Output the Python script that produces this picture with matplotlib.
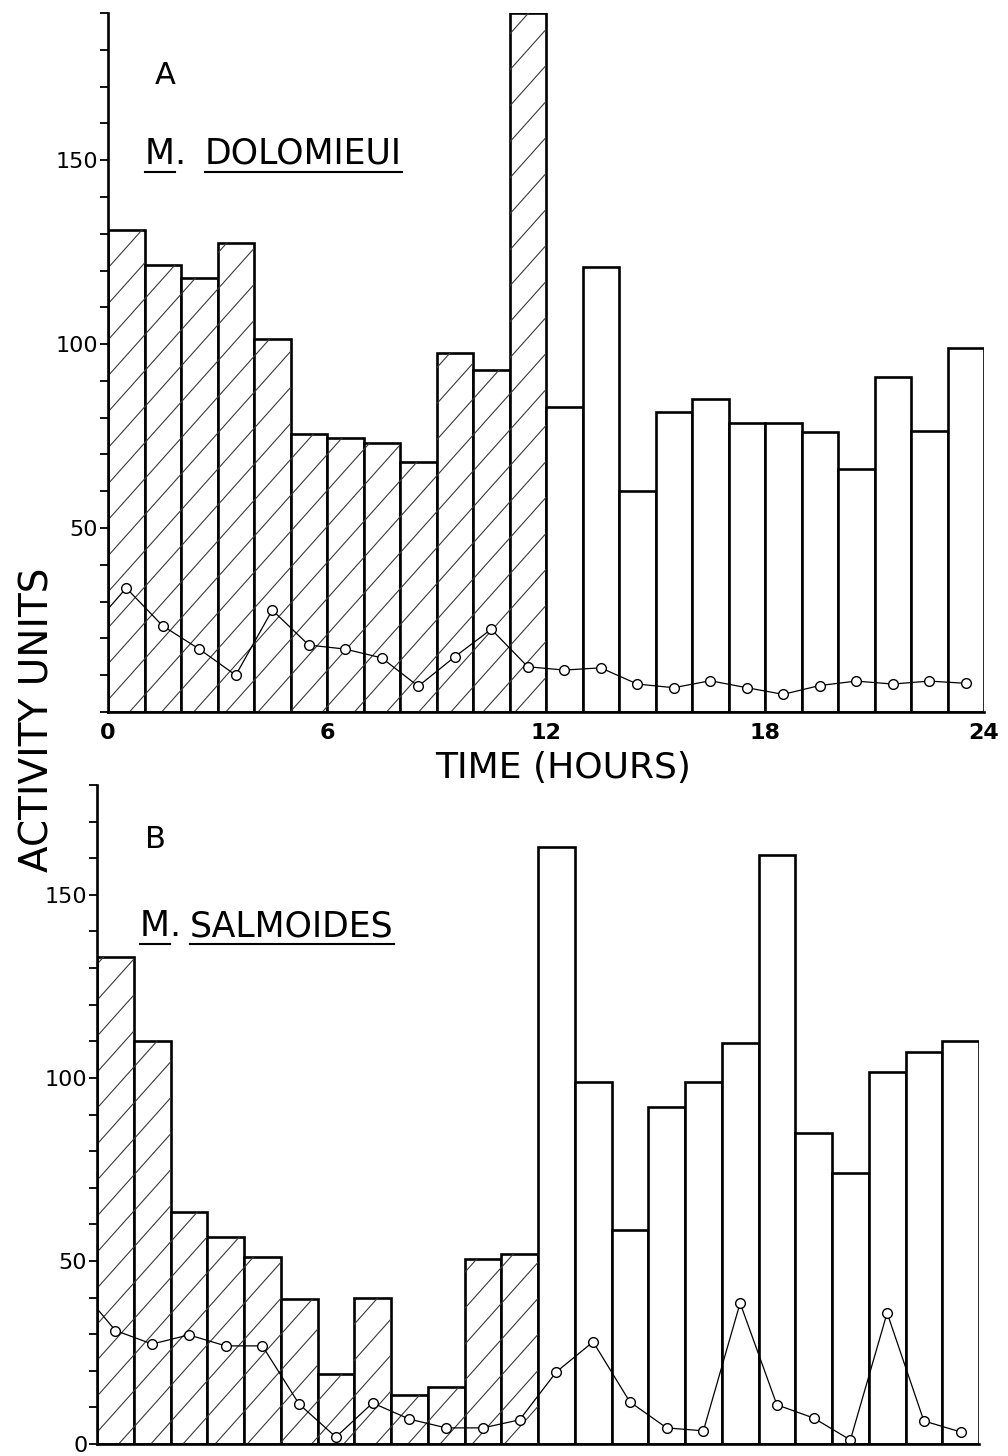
import numpy as np
import matplotlib
matplotlib.use("Agg")
import matplotlib.pyplot as plt
import matplotlib.ticker as mticker
from matplotlib.collections import LineCollection
from matplotlib.transforms import IdentityTransform

# hourly bins (hours 0-24), first 12 hatched
hours = np.arange(24)
n_hatched = 12

# A: M. dolomieui
dolomieui_bars = [131, 121.5, 118, 127.5, 101.5, 75.5, 74.5, 73, 68, 97.5, 93, 190,
                  83, 121, 60, 81.5, 85, 78.5, 78.5, 76, 66, 91, 76.5, 99]
dolomieui_line_t = [0] + [h + 0.5 for h in range(24)]
dolomieui_line = [28, 33.7, 23.4, 17.1, 10, 27.7, 18.2, 17.1, 14.7, 7, 15, 22.5, 12.3,
                  11.4, 12, 7.6, 6.6, 8.5, 6.6, 4.8, 7.2, 8.4, 7.6, 8.4, 7.8]

# B: M. salmoides
salmoides_bars = [133, 110, 63.5, 56.5, 51, 39.5, 19, 40, 13.5, 15.5, 50.5, 52,
                  163, 99, 58.5, 92, 99, 109.5, 161, 85, 74, 101.5, 107, 110]
salmoides_line_t = [0] + [h + 0.5 for h in range(24)]
salmoides_line = [37, 31, 27.3, 29.8, 26.8, 26.8, 10.9, 1.9, 11.2, 6.8, 4.4, 4.4, 6.6,
                  19.7, 27.9, 11.5, 4.4, 3.6, 38.5, 10.7, 7.1, 1.1, 35.8, 6.3, 3.3]

time_ticks = [0, 6, 12, 18, 24]

W, H = 1008, 1456
plt.rcParams["font.family"] = "DejaVu Sans"

fig = plt.figure(figsize=(W / 100, H / 100), dpi=100)
fig.patch.set_facecolor("white")


def px(x, y):
    return x / W, 1 - y / H


def hatch_bar(ax, patch, spacing=36, slope=1.12):
    # sparse diagonal hatching, clipped to the bar
    xs = np.array([0, W])
    segs = []
    for c in np.arange(-slope * W - spacing, H + spacing, spacing):
        segs.append(list(zip(xs, slope * xs + c)))
    lc = LineCollection(segs, colors="#3a3a3a", linewidths=0.8,
                        transform=IdentityTransform(), zorder=4)
    ax.add_collection(lc, autolim=False)
    lc.set_clip_path(patch)


def draw_panel(ax, bars, line_t, line_vals, ymax, ylabels):
    rects = ax.bar(hours, bars, width=1.0, align="edge", facecolor="white",
                   edgecolor="black", linewidth=1.9, zorder=3)
    for i, r in enumerate(rects):
        if i < n_hatched:
            hatch_bar(ax, r)
    ax.plot(line_t, line_vals, color="black", linewidth=0.9, marker="o",
            markevery=list(range(1, len(line_t))),
            markersize=7, markerfacecolor="white", markeredgewidth=1.0, zorder=5)
    ax.set_xlim(0, 24)
    ax.set_ylim(0, ymax)
    for s in ("top", "right"):
        ax.spines[s].set_visible(False)
    for s in ("left", "bottom"):
        ax.spines[s].set_linewidth(1.9)
        ax.spines[s].set_zorder(6)
    ax.yaxis.set_major_locator(mticker.FixedLocator(range(0, ymax + 1, 10)))
    ax.yaxis.set_major_formatter(
        mticker.FuncFormatter(lambda v, p: str(int(v)) if int(v) in ylabels else ""))
    ax.tick_params(axis="y", direction="out", length=6, width=1.3,
                   labelsize=16, pad=1)


# panel A
ax1 = fig.add_axes([108 / W, 1 - 712 / H, 876 / W, (712 - 13) / H])
draw_panel(ax1, dolomieui_bars, dolomieui_line_t, dolomieui_line, 190, (50, 100, 150))
ax1.set_xticks(time_ticks)
ax1.set_xticklabels([str(t) for t in time_ticks], fontsize=16, fontweight="bold")
ax1.tick_params(axis="x", length=0, pad=8)

# panel B
ax2 = fig.add_axes([97 / W, 1 - 1444 / H, 882 / W, (1444 - 785) / H])
draw_panel(ax2, salmoides_bars, salmoides_line_t, salmoides_line, 180, (0, 50, 100, 150))
ax2.set_xticks([])

# labels
fig.text(*px(563, 768), "TIME (HOURS)", fontsize=26, ha="center", va="center")
fig.text(*px(38, 720), "ACTIVITY UNITS", fontsize=28, rotation=90,
         ha="center", va="center")
fig.text(*px(165, 75), "A", fontsize=22, ha="center", va="center")
fig.text(*px(155, 840), "B", fontsize=22, ha="center", va="center")


def species(x_m, x_name, y_base, name):
    t_m = fig.text(*px(x_m, y_base), "M", fontsize=25, ha="left", va="baseline")
    fig.text(*px(x_m + 29, y_base), ".", fontsize=25, ha="left", va="baseline")
    t_n = fig.text(*px(x_name, y_base), name, fontsize=25, ha="left", va="baseline")
    fig.canvas.draw()
    r = fig.canvas.get_renderer()
    for t in (t_m, t_n):
        bb = t.get_window_extent(r)
        y = (H - y_base - 8) / H
        fig.add_artist(plt.Line2D([bb.x0 / W, bb.x1 / W], [y, y],
                                  color="black", linewidth=1.5))


species(145, 205, 164, "DOLOMIEUI")
species(140, 190, 936, "SALMOIDES")

fig.savefig("out.png", dpi=100, facecolor="white")
